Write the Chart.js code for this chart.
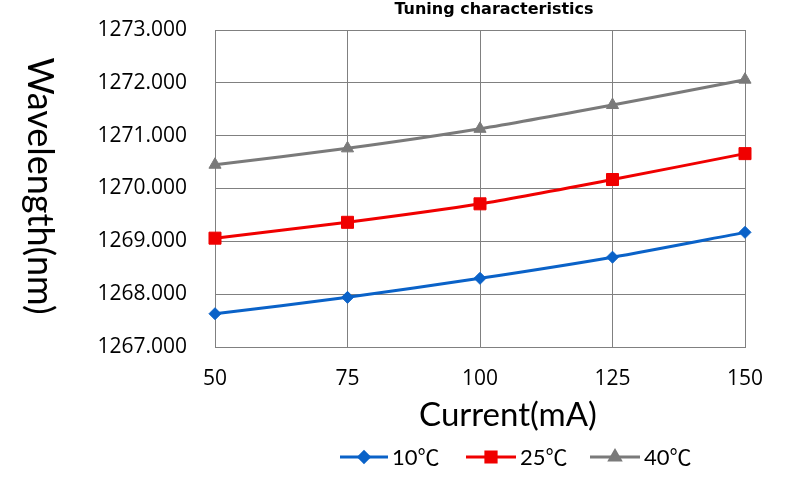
<!DOCTYPE html>
<html>
<head>
<meta charset="utf-8">
<script src="https://cdn.jsdelivr.net/npm/chart.js@4/dist/chart.umd.min.js"></script>
<style>
html,body{margin:0;padding:0;background:#fff;}
#wrap{width:811px;height:487px;position:relative;}
</style>
</head>
<body>
<div id="wrap"><canvas id="c" width="811" height="487"></canvas></div>
<script>
const currents = [50, 75, 100, 125, 150];
const t10 = [1267.63, 1267.94, 1268.30, 1268.70, 1269.17];
const t25 = [1269.06, 1269.36, 1269.71, 1270.17, 1270.66];
const t40 = [1270.45, 1270.76, 1271.13, 1271.58, 1272.06];
const seriesLabels = ['10℃', '25℃', '40℃'];
const chartTitle = 'Tuning characteristics';
const xTitle = 'Current(mA)';
const yTitle = 'Wavelength(nm)';

const colors = ['#0a62c8', '#f00000', '#7a7a7a'];
const styles = ['rectRot', 'rect', 'triangle'];
const radii = [6, 8.5, 7];
const values = [t10, t25, t40];

const toPts = arr => currents.map((x, i) => ({x: x, y: arr[i]}));

const textPlugin = {
  id: 'texts',
  afterDraw(chart) {
    const ctx = chart.ctx;
    ctx.save();
    ctx.fillStyle = '#000';
    ctx.font = 'bold 16px "DejaVu Sans"';
    ctx.textAlign = 'center';
    ctx.textBaseline = 'middle';
    ctx.fillText(chartTitle, 494, 10);
    ctx.font = '33px Lato';
    ctx.fillText(xTitle, 508, 415);
    ctx.save();
    ctx.translate(40, 186);
    ctx.rotate(Math.PI / 2);
    ctx.font = '36px Lato';
    ctx.fillText(yTitle, 0, 0);
    ctx.restore();
    const ly = 457;
    const items = [
      {x0: 340, x1: 388, tx: 392},
      {x0: 466, x1: 516, tx: 520},
      {x0: 590, x1: 640, tx: 644}
    ];
    ctx.font = '22px Lato, "Noto Sans CJK JP"';
    ctx.textAlign = 'left';
    items.forEach((it, i) => {
      ctx.strokeStyle = colors[i];
      ctx.lineWidth = 3;
      ctx.beginPath();
      ctx.moveTo(it.x0, ly);
      ctx.lineTo(it.x1, ly);
      ctx.stroke();
      ctx.fillStyle = colors[i];
      Chart.helpers.drawPoint(ctx, {
        pointStyle: styles[i], radius: radii[i] * 0.85, borderWidth: 1, rotation: 0
      }, (it.x0 + it.x1) / 2, ly);
      ctx.fillStyle = '#000';
      ctx.fillText(seriesLabels[i], it.tx, ly + 1);
    });
    ctx.restore();
  }
};

new Chart(document.getElementById('c'), {
  type: 'line',
  data: {
    datasets: values.map((v, i) => ({
      label: seriesLabels[i],
      data: toPts(v),
      borderColor: colors[i],
      backgroundColor: colors[i],
      borderWidth: 3,
      pointStyle: styles[i],
      pointRadius: radii[i],
      pointBorderWidth: 1,
      pointBorderColor: colors[i],
      tension: 0.25,
      clip: false,
      fill: false
    }))
  },
  options: {
    responsive: false,
    animation: false,
    devicePixelRatio: 1,
    layout: {padding: {left: 0, right: 66, top: 30, bottom: 0}},
    plugins: {legend: {display: false}, title: {display: false}, tooltip: {enabled: false}},
    scales: {
      x: {
        type: 'linear', min: 50, max: 150,
        ticks: {stepSize: 25, color: '#000', font: {family: 'Open Sans', size: 21}, padding: 19},
        grid: {color: '#808080', lineWidth: 1, drawTicks: false},
        border: {color: '#808080'},
        afterFit(s) { s.height = 140; s.paddingLeft = 0; s.paddingRight = 0; }
      },
      y: {
        min: 1267, max: 1273,
        ticks: {stepSize: 1, color: '#000', font: {family: 'Open Sans', size: 21}, padding: 28,
          callback: v => v.toFixed(3)},
        grid: {color: '#808080', lineWidth: 1, drawTicks: false},
        border: {color: '#808080'},
        afterFit(s) { s.width = 215; s.paddingTop = 0; s.paddingBottom = 0; }
      }
    }
  },
  plugins: [textPlugin]
});
</script>
</body>
</html>
